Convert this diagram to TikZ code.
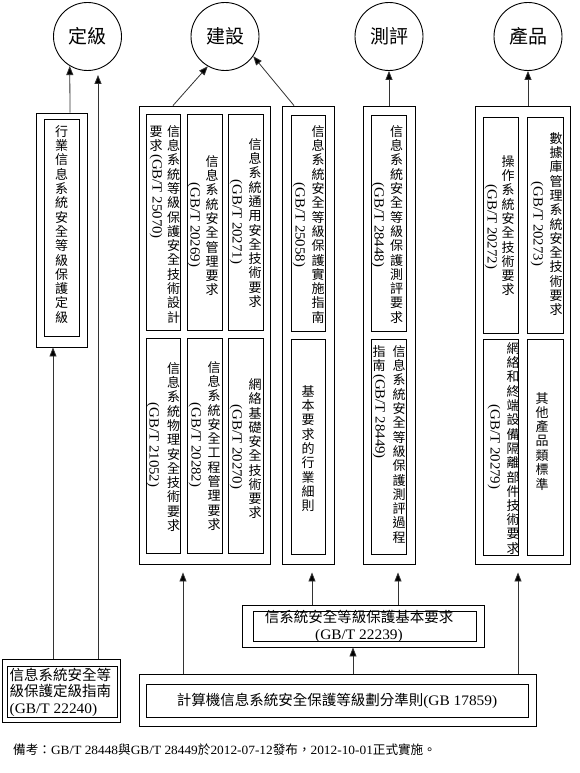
\documentclass[tikz,border=0pt]{standalone}
\usepackage{fontspec}
\usepackage{graphicx}
\usetikzlibrary{arrows.meta}
\setmainfont{Noto Sans CJK TC}
\newfontfamily\lat[FakeStretch=1.06]{Liberation Serif}

\newlength\vpitch \setlength\vpitch{14.3pt}
\newlength\vcw \setlength\vcw{15pt}
\newcommand\vcendmark{vcendmark}
\def\vcloop#1{\ifx\vcendmark#1\else\vcitem{#1}\expandafter\vcloop\fi}
\newcommand\vcitem[1]{\hbox to\vcw{\hss\vbox to\vpitch{\vss\hbox{#1}\vss}\hss}}
\newcommand\vchars[1]{\vcloop#1\vcendmark}
\newcommand\vlat[1]{\kern1.5pt\hbox to\vcw{\hss\rotatebox{-90}{\lat\fontsize{14}{14}\selectfont #1}\hss}\kern1.5pt}
\newcommand\vcol[1]{\vbox{\offinterlineskip #1}}
\newcommand\fsz[2]{\fontsize{#1}{#2}\selectfont}

\tikzset{
  circ/.style={draw, circle, minimum size=68pt, inner sep=0pt, line width=.9pt, font=\fsz{19}{19}},
  bx/.style={draw, rectangle, inner sep=0pt, line width=.9pt},
  vt/.style={inner sep=0pt, anchor=north, font=\fsz{13}{13}},
  arr/.style={-{Triangle[length=9pt,width=7pt,fill=black]}, line width=.8pt, draw=black!80},
}

\begin{document}
\begin{tikzpicture}[x=1pt, y=-1pt]
\fill[white] (0,0) rectangle (580,773);
\useasboundingbox (0,0) rectangle (580,773);

% circles
\node[circ] (c1) at (87.5,36.5) {定級};
\node[circ] (c2) at (225,36.5) {建設};
\node[circ] (c3) at (389,36.5) {測評};
\node[circ] (c4) at (528,36.5) {產品};

% 定級 group
\node[bx, minimum width=51pt, minimum height=234pt] (D0) at (61.5,230) {};
\node[bx, minimum width=35pt, minimum height=217pt] (D1) at (61.5,227.5) {};
\node[vt] (d1t) at (61.5,124) {\vcol{\vchars{行業信息系統安全等級保護定級}}};

% 建設 group
\node[bx, minimum width=131pt, minimum height=458pt] (J0) at (204.5,335) {};
\node[bx, minimum width=34pt, minimum height=216pt] (J1) at (163,222) {};
\node[bx, minimum width=35pt, minimum height=216pt] (J2) at (204.5,222) {};
\node[bx, minimum width=35pt, minimum height=216pt] (J3) at (245.5,222) {};
\node[bx, minimum width=34pt, minimum height=215pt] (J4) at (163,445.5) {};
\node[bx, minimum width=35pt, minimum height=215pt] (J5) at (204.5,445.5) {};
\node[bx, minimum width=35pt, minimum height=215pt] (J6) at (245.5,445.5) {};

\node[vt] (j1a) at (173.5,124) {\vcol{\vchars{信息系統等級保護安全技術設計}}};
\node[vt] (j1b) at (156,124) {\vcol{\vchars{要求}\vlat{(GB/T 25070)}}};
\node[vt] (j2a) at (212,154) {\vcol{\vchars{信息系統安全管理要求}}};
\node[vt] (j2b) at (194,181) {\vcol{\vlat{(GB/T 20269)}}};
\node[vt] (j3a) at (255,137) {\vcol{\vchars{信息系統通用安全技術要求}}};
\node[vt] (j3b) at (236,178) {\vcol{\vlat{(GB/T 20271)}}};
\node[vt] (j4a) at (173.5,361) {\vcol{\vchars{信息系統物理安全技術要求}}};
\node[vt] (j4b) at (153,401) {\vcol{\vlat{(GB/T 21052)}}};
\node[vt] (j5a) at (214,360) {\vcol{\vchars{信息系統安全工程管理要求}}};
\node[vt] (j5b) at (195,401) {\vcol{\vlat{(GB/T 20282)}}};
\node[vt] (j6a) at (255,377) {\vcol{\vchars{網絡基礎安全技術要求}}};
\node[vt] (j6b) at (236,403) {\vcol{\vlat{(GB/T 20270)}}};

% 25058 group
\node[bx, minimum width=52pt, minimum height=458pt] (G0) at (308,335) {};
\node[bx, minimum width=34pt, minimum height=216pt] (G1) at (308,223) {};
\node[bx, minimum width=34pt, minimum height=215pt] (G2) at (308,446.5) {};
\node[vt] (g1a) at (318,124) {\vcol{\vchars{信息系統安全等級保護實施指南}}};
\node[vt] (g1b) at (299,181) {\vcol{\vlat{(GB/T 25058)}}};
\node[vt] (g2a) at (308,384) {\vcol{\vchars{基本要求的行業細則}}};

% 測評 group
\node[bx, minimum width=52pt, minimum height=458pt] (P0) at (389,335) {};
\node[bx, minimum width=35pt, minimum height=216pt] (P1) at (388.5,223) {};
\node[bx, minimum width=35pt, minimum height=215pt] (P2) at (388.5,446.5) {};
\node[vt] (p1a) at (396.5,124) {\vcol{\vchars{信息系統安全等級保護測評要求}}};
\node[vt] (p1b) at (378,181) {\vcol{\vlat{(GB/T 28448)}}};
\node[vt] (p2a) at (399,344) {\vcol{\vchars{信息系統安全等級保護測評過程}}};
\node[vt] (p2b) at (379,344) {\vcol{\vchars{指南}\vlat{(GB/T 28449)}}};

% 產品 group
\node[bx, minimum width=95pt, minimum height=458pt] (Q0) at (522.5,335) {};
\node[bx, minimum width=35pt, minimum height=216pt] (Q1) at (500.5,225) {};
\node[bx, minimum width=36pt, minimum height=216pt] (Q2) at (545,225) {};
\node[bx, minimum width=35pt, minimum height=216pt] (Q3) at (500.5,447) {};
\node[bx, minimum width=36pt, minimum height=216pt] (Q4) at (545,447) {};
\node[vt] (q1a) at (508,154) {\vcol{\vchars{操作系統安全技術要求}}};
\node[vt] (q1b) at (491,183) {\vcol{\vlat{(GB/T 20272)}}};
\node[vt] (q2a) at (556,131) {\vcol{\vchars{數據庫管理系統安全技術要求}}};
\node[vt] (q2b) at (537,180) {\vcol{\vlat{(GB/T 20273)}}};
\node[vt] (q3a) at (513,341) {\vcol{\vchars{網絡和終端設備隔離部件技術要求}}};
\node[vt] (q3b) at (494,403) {\vcol{\vlat{(GB/T 20279)}}};
\node[vt] (q4a) at (542,391) {\vcol{\vchars{其他產品類標準}}};

% bottom boxes
\node[bx, minimum width=118pt, minimum height=63pt] (B1o) at (61,690.5) {};
\node[bx, minimum width=110pt, minimum height=51pt] (B1i) at (62,691.5) {};
\node[inner sep=0pt, anchor=west, align=left, font=\fsz{14.5}{16.5}] (b1t) at (9.5,692)
  {信息系統安全等\\級保護定級指南\\{\lat (GB/T 22240)}};

\node[bx, minimum width=242pt, minimum height=42pt] (B2o) at (363,626) {};
\node[bx, minimum width=223pt, minimum height=30pt] (B2i) at (364.5,626) {};
\node[inner sep=0pt, align=center, font=\fsz{14.5}{17}] (b2t) at (359,626)
  {信系統安全等級保護基本要求\\{\lat (GB/T 22239)}};

\node[bx, minimum width=397pt, minimum height=52pt] (B3o) at (337.5,700) {};
\node[bx, minimum width=382pt, minimum height=33pt] (B3i) at (337,700.5) {};
\node[inner sep=0pt, font=\fsz{14.5}{17}] (b3t) at (337,701)
  {計算機信息系統安全保護等級劃分準則{\lat (GB 17859)}};

% footer
\node[inner sep=0pt, anchor=west, font=\fsz{12.6}{14}] (note) at (13,750)
  {備考：{\lat GB/T 28448}與{\lat GB/T 28449}於{\lat 2012-07-12}發布，{\lat 2012-10-01}正式實施。};

% helper coordinates
\coordinate (xa) at (53,0);
\coordinate (xb) at (98,75);
\coordinate (xc) at (70,0);
\coordinate (xd) at (183,0);
\coordinate (xe) at (312,0);
\coordinate (xf) at (398,0);
\coordinate (xg) at (353,0);
\coordinate (xh) at (518,0);
\coordinate (xj) at (173,0);
\coordinate (xk) at (294,0);

% connectors
\draw[arr] (B1o.north -| xa) -- (D0.south -| xa);
\draw[arr] (B1o.north -| xb) -- (xb);
\draw[arr] (D0.north -| xc) -- (c1.239);
\draw[arr] (J0.north -| xj) -- (c2.240);
\draw[arr] (G0.north -| xk) -- (c2.325);
\draw[arr] (P0.north) -- (c3.south);
\draw[arr] (Q0.north -| c4) -- (c4.south);
\draw[arr, shorten >=8pt] (B3o.north -| xd) -- (J0.south -| xd);
\draw[arr, shorten >=8pt] (B2o.north -| xe) -- (G0.south -| xe);
\draw[arr, shorten >=8pt] (B2o.north -| xf) -- (P0.south -| xf);
\draw[arr] (B3o.north -| xg) -- (B2o.south -| xg);
\draw[arr, shorten >=8pt] (B3o.north -| xh) -- (Q0.south -| xh);
\end{tikzpicture}
\end{document}
